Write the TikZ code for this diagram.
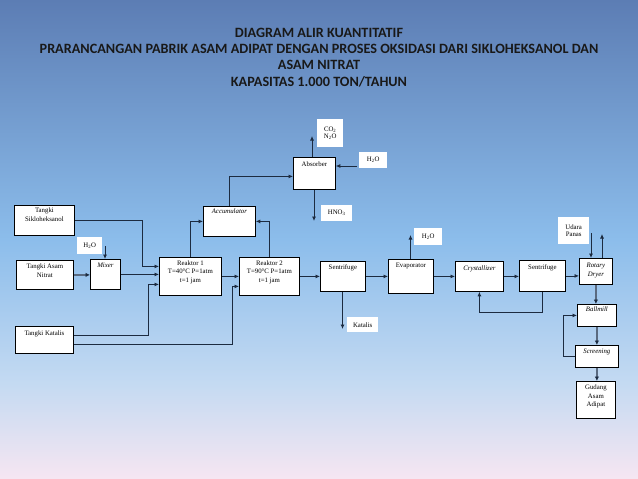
\documentclass[tikz,border=0pt]{standalone}
\usepackage{fontspec}
\setmainfont{Liberation Serif}
\newfontfamily\ttlfont{Carlito}
\usetikzlibrary{arrows.meta,calc}
\definecolor{bgtop}{HTML}{5C7DB4}
\definecolor{bgmid}{HTML}{8CBDEB}
\definecolor{bglow}{HTML}{C4DAF2}
\definecolor{bgbot}{HTML}{F6E6F2}
\definecolor{arrcol}{HTML}{1C2B40}
\definecolor{garrcol}{HTML}{5A6A80}
\pgfdeclareverticalshading{bgsh}{100bp}{color(0bp)=(bgbot); color(25bp)=(bgbot); color(35bp)=(bglow); color(50bp)=(bgmid); color(75bp)=(bgtop); color(100bp)=(bgtop)}
\newcommand\fbx[8]{%
 \node[box,minimum width=#4pt,minimum height=#5pt] (#1) at (#2,#3) {};
 \node[#7] (#1-t) at ([yshift=-#6pt]#1.north) {#8};}
\newcommand\flbl[6]{\node[lbl,minimum width=#4pt,minimum height=#5pt] (#1) at (#2,#3) {#6};}
\begin{document}
\begin{tikzpicture}[x=1pt,y=-1pt,
 box/.style={draw=black,line width=0.8pt,fill=white,anchor=north west,inner sep=0pt},
 lbl/.style={fill=white,inner sep=0pt,anchor=north west,align=center,font=\fontsize{6.8}{7.6}\selectfont},
 txt/.style={anchor=north,align=center,inner sep=0pt,font=\fontsize{6.8}{8.5}\selectfont},
 txti/.style={txt,font=\fontsize{6.8}{8.5}\selectfont\itshape},
 arr/.style={draw=arrcol,line width=0.8pt,-{Latex[length=4.5pt,width=4pt]}},
 garr/.style={draw=garrcol,line width=1.5pt,-{Latex[length=4.5pt,width=4.5pt,color=arrcol]}},
 ln/.style={draw=arrcol,line width=0.8pt}
]
\useasboundingbox (0,0) rectangle (638,479);
\shade[shading=bgsh] (0,0) rectangle (638,479);
\node[align=center,font=\ttlfont\bfseries\fontsize{14.2}{16.3}\selectfont,text=black!90] (title) at (319,57.5)
 {DIAGRAM ALIR KUANTITATIF\\PRARANCANGAN PABRIK ASAM ADIPAT DENGAN PROSES OKSIDASI DARI SIKLOHEKSANOL DAN\\ASAM NITRAT\\KAPASITAS 1.000 TON/TAHUN};
% boxes
\fbx{tsk}{14}{205}{60}{30}{3}{txt}{Tangki\\Sikloheksanol}
\fbx{tan}{16}{260}{57}{29}{4}{txt}{Tangki Asam\\Nitrat}
\fbx{mx}{90}{259}{30}{30}{4}{txti}{Mixer}
\fbx{tk}{15}{326}{58}{27}{5}{txt}{Tangki Katalis}
\fbx{r1}{159}{257}{62}{38}{3.5}{txt}{Reaktor 1\\T=40°C P=1atm\\t=1 jam}
\fbx{r2}{239}{257}{60}{38}{3.5}{txt}{Reaktor 2\\T=90°C P=1atm\\t=1 jam}
\fbx{acc}{203}{206}{52}{30}{3}{txti}{Accumulator}
\fbx{ab}{293}{157}{42}{32}{5}{txt}{Absorber}
\fbx{s1}{320}{261}{45}{30}{4}{txt}{Sentrifuge}
\fbx{ev}{388}{259}{45}{34}{4}{txt}{Evaporator}
\fbx{cr}{455}{261}{48}{30}{5}{txti}{Crystallizer}
\fbx{s2}{519}{260}{46}{31}{5}{txt}{Sentrifuge}
\fbx{rd}{579}{258}{33}{26}{5}{txti}{Rotary\\Dryer}
\fbx{bm}{577}{304}{39}{22}{3}{txti}{Ballmill}
\fbx{sc}{575}{345}{43}{22}{4}{txti}{Screening}
\fbx{gd}{576}{381}{39}{37}{4}{txt}{Gudang\\Asam\\Adipat}
% labels
\flbl{h2om}{77}{237}{25}{17}{H\textsubscript{2}O}
\flbl{co2}{317}{119}{26}{28}{CO\textsubscript{2}\\N\textsubscript{2}O}
\flbl{h2oab}{359}{152}{28}{16}{H\textsubscript{2}O}
\flbl{hno3}{321}{205}{31}{16}{HNO\textsubscript{3}}
\flbl{kat}{347}{317}{31}{15}{Katalis}
\flbl{h2oev}{414}{228}{28}{17}{H\textsubscript{2}O}
\flbl{udara}{558}{217}{31}{27}{Udara\\Panas}
% free ends
\coordinate (mxin) at (105,246);
\coordinate (about) at (312,136);
\coordinate (abin) at (357,166);
\coordinate (hno3e) at (314,221);
\coordinate (kate) at (342.5,329);
\coordinate (eve) at (410.5,235);
\coordinate (rdin) at (591,233);
\coordinate (rdout) at (602,234);
% connectors
\draw[arr] (tsk.east) -- ++(68,0) |- ([yshift=10pt]r1.west);
\draw[garr] (tan.east) -- (tan.east -| mx.west);
\draw[arr] (mxin) -- (mxin |- mx.north);
\draw[arr] (mx.east) -- (mx.east -| r1.west);
\draw[arr] ([yshift=4.5pt]tk.east) -- ++(75,0) |- ([yshift=-8pt]r1.west);
\draw[arr] ([yshift=-4.5pt]tk.east) -- ++(159,0) |- ([yshift=-10pt]r2.west);
\draw[arr] (r1.east) -- (r1.east -| r2.west);
\draw[arr] (r1.north) |- (acc.west);
\draw[arr] (r2.north) |- (acc.east);
\draw[arr] (acc.north) |- ([yshift=-3pt]ab.west);
\draw[arr] (about |- ab.north) -- (about);
\draw[arr] (abin) -- (abin -| ab.east);
\draw[arr] (hno3e |- ab.south) -- (hno3e);
\draw[arr] (r2.east) -- (r2.east -| s1.west);
\draw[arr] (kate |- s1.south) -- (kate);
\draw[arr] (s1.east) -- (s1.east -| ev.west);
\draw[arr] (eve |- ev.north) -- (eve);
\draw[arr] (ev.east) -- (ev.east -| cr.west);
\draw[arr] (cr.east) -- (cr.east -| s2.west);
\draw[arr] (s2.south) -- ++(0,21) -| (cr.south);
\draw[arr] (s2.east) -- (s2.east -| rd.west);
\draw[arr] (rdin) -- (rdin |- rd.north);
\draw[arr] (rdout |- rd.north) -- (rdout);
\draw[garr] (rd.south) -- (rd.south |- bm.north);
\draw[garr] (bm.south) -- (bm.south |- sc.north);
\draw[arr] (sc.west) -- ++(-12,0) |- (bm.west);
\draw[garr] (sc.south) -- (sc.south |- gd.north);
\end{tikzpicture}
\end{document}
